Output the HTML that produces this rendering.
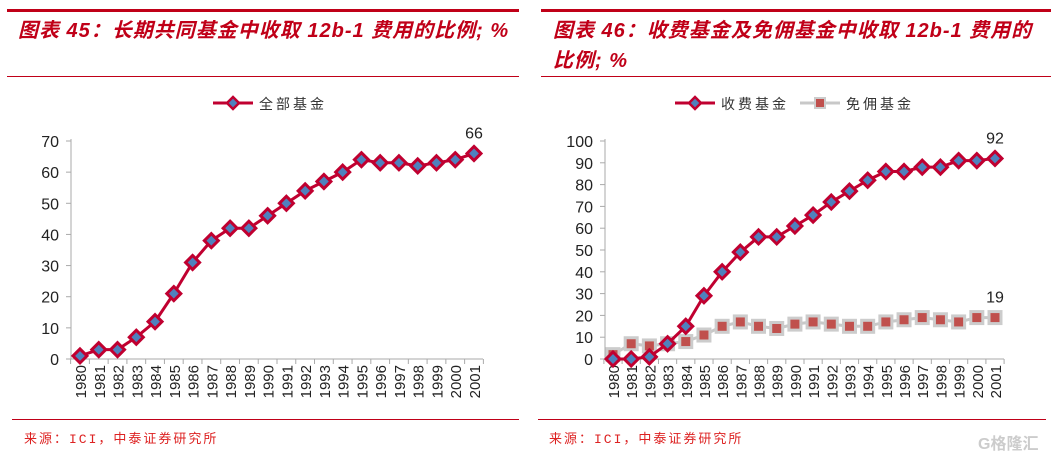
<!DOCTYPE html>
<html><head><meta charset="utf-8"><style>
body{margin:0;width:1058px;height:456px;background:#fff;overflow:hidden;font-family:"Liberation Sans","Noto Sans CJK SC",sans-serif}
.t{position:absolute;color:#c00018;font-weight:bold;font-style:italic;font-size:20px;line-height:30px;white-space:nowrap;letter-spacing:1px}
.hl{position:absolute;background:#c00018}
.src{position:absolute;color:#d22;font-size:13px;font-family:"Liberation Mono","Noto Sans CJK SC",monospace;letter-spacing:2px}
</style></head><body>
<div class="hl" style="left:7px;top:9px;width:512px;height:3px"></div>
<div class="hl" style="left:541px;top:9px;width:510px;height:3px"></div>
<div class="t" style="left:18px;top:16px">图表 45：长期共同基金中收取 12b-1 费用的比例; %</div>
<div class="t" style="left:553px;top:16px">图表 46：收费基金及免佣基金中收取 12b-1 费用的<br>比例; %</div>
<div class="hl" style="left:7px;top:76px;width:512px;height:1px"></div>
<div class="hl" style="left:541px;top:76px;width:510px;height:1px"></div>
<div class="hl" style="left:12px;top:419px;width:507px;height:1px"></div>
<div class="hl" style="left:538px;top:419px;width:508px;height:1px"></div>
<div class="src" style="left:24px;top:428px">来源：ICI，中泰证券研究所</div>
<div class="src" style="left:549px;top:428px">来源：ICI，中泰证券研究所</div>
<div style="position:absolute;left:978px;top:430px;color:#ccc;font-size:16px;font-weight:bold">G格隆汇</div>
<svg id="s" width="1058" height="456" style="position:absolute;left:0;top:0"></svg>
<script>
const years=["1980","1981","1982","1983","1984","1985","1986","1987","1988","1989","1990","1991","1992","1993","1994","1995","1996","1997","1998","1999","2000","2001"];
const allFunds=[1,3,3,7,12,21,31,38,42,42,46,50,54,57,60,64,63,63,62,63,64,66];
const loadFunds=[0,0,1,7,15,29,40,49,56,56,61,66,72,77,82,86,86,88,88,91,91,92];
const noLoadFunds=[2,7,6,7,8,11,15,17,15,14,16,17,16,15,15,17,18,19,18,17,19,19];
const ticks1=[0,10,20,30,40,50,60,70];
const ticks2=[0,10,20,30,40,50,60,70,80,90,100];
const S=document.getElementById('s');const NS="http://www.w3.org/2000/svg";
function mk(t,a,txt){const e=document.createElementNS(NS,t);for(const k in a)e.setAttribute(k,a[k]);if(txt!==undefined)e.textContent=txt;S.appendChild(e);return e;}
function chart(cfg){
 const ax=cfg.ax,x0=cfg.x0,x1=cfg.x1,yb=359,yt=141,max=cfg.max,end=cfg.end;
 const Y=v=>yb-(v/max)*(yb-yt);
 const X=i=>x0+i*(x1-x0)/(years.length-1);
 const step=(x1-x0)/(years.length-1);
 let e=mk('line',{x1:ax,y1:yt-2,x2:ax,y2:yb,stroke:'#aaa'});
 
 e=mk('line',{x1:ax,y1:yb,x2:end,y2:yb,stroke:'#aaa'});
 
 cfg.ticks.forEach(t=>{mk('line',{x1:ax-5,y1:Y(t),x2:ax,y2:Y(t),stroke:'#aaa'});
  e=mk('text',{x:ax-12,y:Y(t)+6,'text-anchor':'end','font-size':16,fill:'#222','font-family':'Liberation Sans'},t);
  });
 for(let i=0;i<=years.length;i++){const xx=X(i)-step/2;mk('line',{x1:xx,y1:yb,x2:xx,y2:yb+5,stroke:'#aaa'});}
 years.forEach((y,i)=>{e=mk('text',{transform:`translate(${X(i)+6},${yb+6}) rotate(-90)`,'text-anchor':'end','font-size':15,fill:'#222','font-family':'Liberation Sans'},y);
  });
 cfg.series.forEach(s=>{
  e=mk('polyline',{points:s.v.map((v,i)=>X(i)+','+Y(v)).join(' '),fill:'none',stroke:s.c,'stroke-width':3});
  
  s.v.forEach((v,i)=>{
   if(s.sq){e=mk('rect',{x:X(i)-6,y:Y(v)-6,width:12,height:12,fill:'#c0504d',stroke:'#ccc','stroke-width':3});}
   else{const x=X(i),y=Y(v);e=mk('polygon',{points:`${x},${y-7} ${x+7},${y} ${x},${y+7} ${x-7},${y}`,fill:'#4f81bd',stroke:'#c00030','stroke-width':3});}
   });
  e=mk('text',{x:X(years.length-1),y:Y(s.v[s.v.length-1])-15,'text-anchor':'middle','font-size':16,fill:'#222'},s.v[s.v.length-1]);
  
 });
 cfg.legend.forEach(l=>{
  e=mk('line',{x1:l.x,y1:103,x2:l.x+40,y2:103,stroke:l.c,'stroke-width':3});
  
  if(l.sq)mk('rect',{x:l.x+15,y:98,width:10,height:10,fill:'#c0504d',stroke:'#ccc','stroke-width':2});
  else mk('polygon',{points:`${l.x+20},97 ${l.x+26},103 ${l.x+20},109 ${l.x+14},103`,fill:'#4f81bd',stroke:'#c00030','stroke-width':2.5});
  e=mk('text',{x:l.x+46,y:109,'font-size':14,fill:'#333','font-family':'Noto Sans CJK SC','letter-spacing':3},l.t);
  
 });
}
chart({ax:71,x0:80,x1:474,end:483,max:70,ticks:ticks1,series:[{v:allFunds,c:'#c00030',name:'all-funds'}],legend:[{x:213,c:'#c00030',t:'全部基金'}]});
chart({ax:605,x0:613,x1:995,end:1004,max:100,ticks:ticks2,series:[{v:noLoadFunds,c:'#c8c8c8',sq:true,name:'no-load-funds'},{v:loadFunds,c:'#c00030',name:'load-funds'}],legend:[{x:675,c:'#c00030',t:'收费基金'},{x:800,c:'#c8c8c8',sq:true,t:'免佣基金'}]});
</script>
</body></html>
